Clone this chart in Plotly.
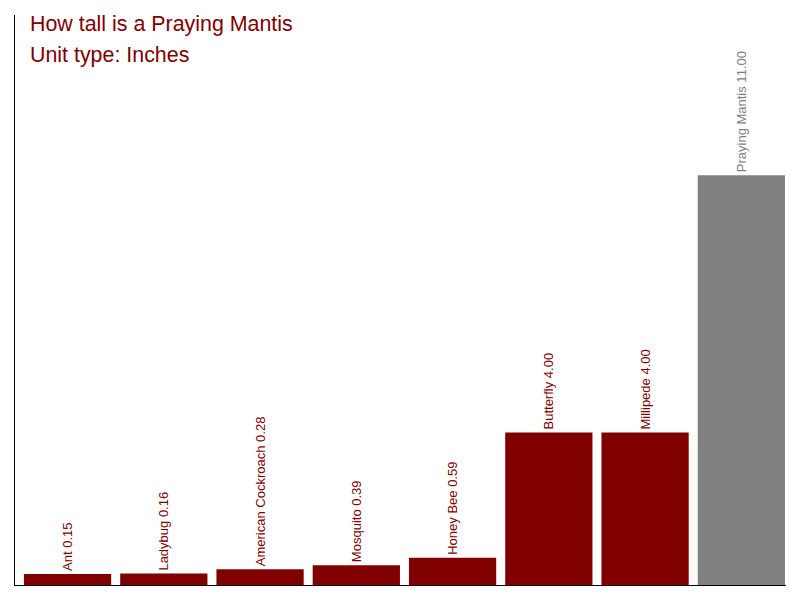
import plotly.graph_objects as go

insects = ["Ant", "Ladybug", "American Cockroach", "Mosquito", "Honey Bee",
           "Butterfly", "Millipede", "Praying Mantis"]
heights = [0.15, 0.16, 0.28, 0.39, 0.59, 4.00, 4.00, 11.00]
highlight = "Praying Mantis"

RED = "#800000"
GREY = "#808080"
Y_MIN = -0.15
Y_MAX = 15.36

colors = [GREY if n == highlight else RED for n in insects]
labels = [f"{n} {v:.2f}" for n, v in zip(insects, heights)]

fig = go.Figure(go.Bar(
    x=insects,
    y=[v - Y_MIN for v in heights],
    base=Y_MIN,
    marker=dict(color=colors, line=dict(width=0)),
    text=labels,
    textposition="outside",
    textangle=-90,
    constraintext="none",
    textfont=dict(family="Liberation Sans, Arial, sans-serif", size=13, color=colors),
    cliponaxis=False,
    hoverinfo="skip",
))

fig.update_layout(
    width=800, height=600,
    margin=dict(l=15, r=14, t=15, b=15, autoexpand=False),
    plot_bgcolor="white", paper_bgcolor="white",
    bargap=0.0935,
    showlegend=False,
    font=dict(family="Liberation Sans, Arial, sans-serif"),
    xaxis=dict(showline=True, linecolor="black", linewidth=1, showticklabels=False,
               ticks="", showgrid=False, zeroline=False, range=[-0.546, 7.464]),
    yaxis=dict(showline=True, linecolor="black", linewidth=1, showticklabels=False,
               ticks="", showgrid=False, zeroline=False, range=[Y_MIN, Y_MAX]),
    annotations=[
        dict(text="How tall is a Praying Mantis", xref="paper", yref="paper",
             x=0, y=1, xanchor="left", yanchor="top", xshift=13, yshift=5,
             showarrow=False, font=dict(size=21.4, color=RED)),
        dict(text="Unit type: Inches", xref="paper", yref="paper",
             x=0, y=1, xanchor="left", yanchor="top", xshift=13, yshift=-26,
             showarrow=False, font=dict(size=21.4, color=RED)),
    ],
)

fig.write_html("out.html", config={"displayModeBar": False})

with open("out.html", "r", encoding="utf-8") as f:
    html = f.read()
html = html.replace("<head>", "<head><style>html,body{margin:0;padding:0;}</style>", 1)
with open("out.html", "w", encoding="utf-8") as f:
    f.write(html)
